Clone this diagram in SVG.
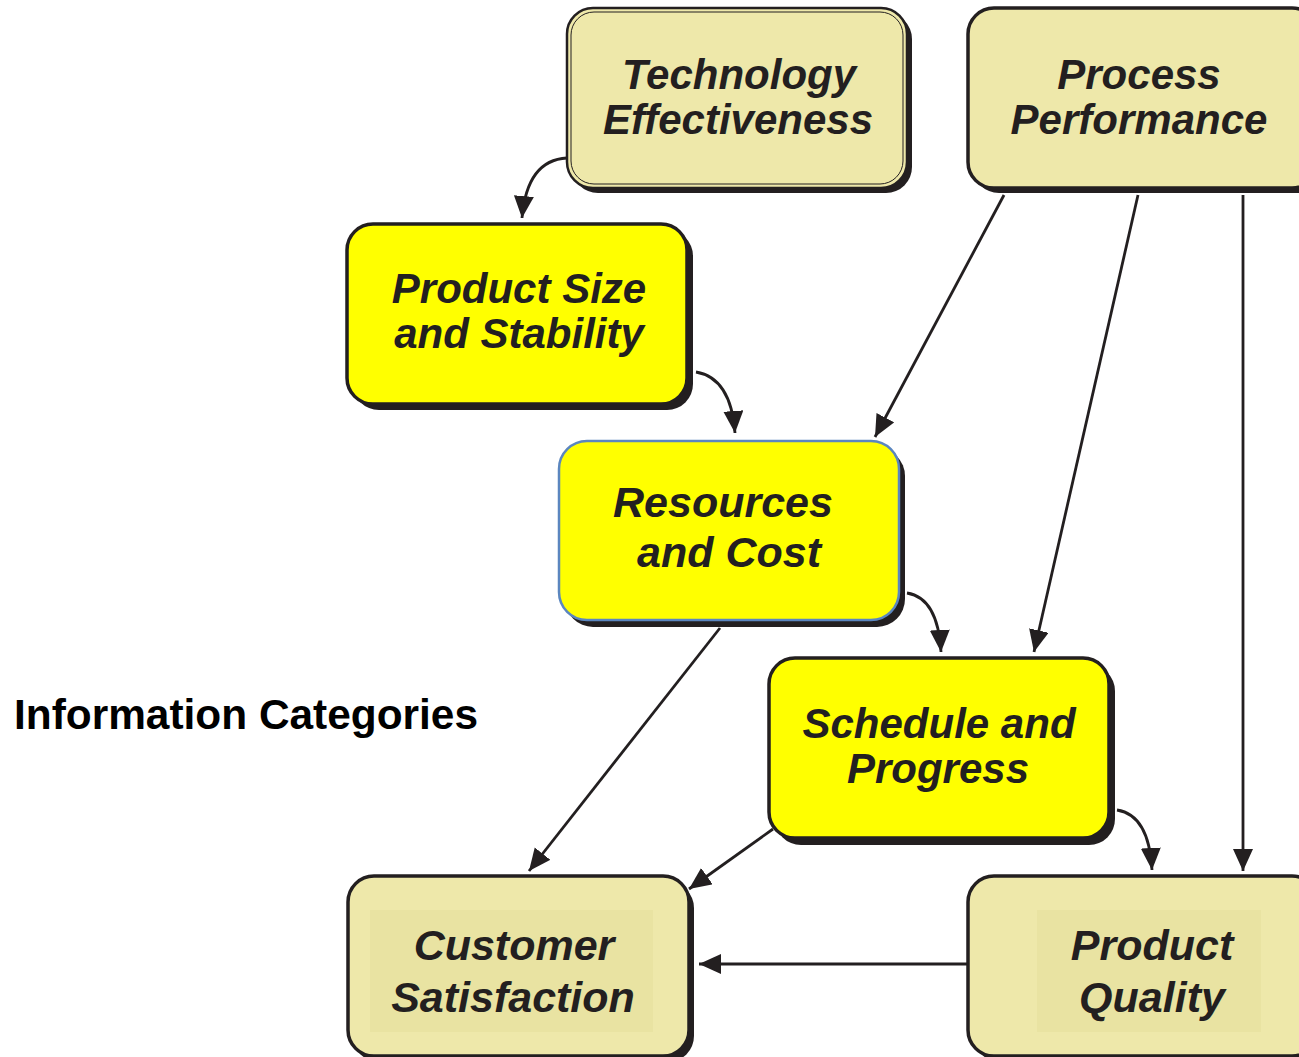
<svg xmlns="http://www.w3.org/2000/svg" width="1299" height="1057" viewBox="0 0 1299 1057">
<defs>
<style>
.shadow{fill:#231f20;}
.khaki{fill:#EEE8AA;stroke:#231f20;stroke-width:3.5;}
.khakiThin{fill:#EEE8AA;stroke:#231f20;stroke-width:2.5;}
.yellow{fill:#FFFF00;stroke:#231f20;stroke-width:3.5;}
.blue{fill:#FFFF00;stroke:#5B86BF;stroke-width:2.5;}
.inner{fill:#E9E3A2;}
.lbl{font-family:"Liberation Sans",Arial,sans-serif;font-weight:bold;font-style:italic;font-size:42px;fill:#231f20;text-anchor:middle;}
.big{font-size:43px;}
.title{font-family:"Liberation Sans",Arial,sans-serif;font-weight:bold;font-size:42.4px;fill:#000;}
.conn{fill:none;stroke:#231f20;stroke-width:2.8;}
</style>
<marker id="arr" markerUnits="userSpaceOnUse" markerWidth="24" markerHeight="22" refX="22" refY="10" orient="auto">
<path d="M0,0 L22,10 L0,20 z" fill="#231f20"/>
</marker>
</defs>

<text class="title" x="14" y="729">Information Categories</text>

<g id="connectors">
<path class="conn" marker-end="url(#arr)" d="M567,158 Q527,160 522,218"/>
<path class="conn" marker-end="url(#arr)" d="M696,372 Q731,378 735,433"/>
<path class="conn" marker-end="url(#arr)" d="M1004,195 L875,437"/>
<path class="conn" marker-end="url(#arr)" d="M1138,195 L1034,652"/>
<path class="conn" marker-end="url(#arr)" d="M1243,195 L1243,871"/>
<path class="conn" marker-end="url(#arr)" d="M907,593 Q938,598 941,652"/>
<path class="conn" marker-end="url(#arr)" d="M720,628 L529,871"/>
<path class="conn" marker-end="url(#arr)" d="M773,829 L689,889"/>
<path class="conn" marker-end="url(#arr)" d="M1117,810 Q1149,815 1152,870"/>
<path class="conn" marker-end="url(#arr)" d="M968,964 L699,964"/>
</g>

<g id="technology-effectiveness">
<rect class="shadow" x="572" y="13" width="340" height="180" rx="26"/>
<rect class="khakiThin" x="567" y="8" width="340" height="180" rx="26"/>
<rect x="571" y="12" width="332" height="172" rx="23" fill="none" stroke="#231f20" stroke-width="1"/>
<text class="lbl" x="739" y="89">Technology</text>
<text class="lbl" x="738" y="134">Effectiveness</text>
</g>

<g id="process-performance">
<rect class="shadow" x="973" y="13" width="350" height="180" rx="26"/>
<rect class="khaki" x="968" y="8" width="350" height="180" rx="26"/>
<text class="lbl" x="1139" y="89">Process</text>
<text class="lbl" x="1139" y="134">Performance</text>
</g>

<g id="product-size-stability">
<rect class="shadow" x="353" y="230" width="340" height="180" rx="26"/>
<rect class="yellow" x="347" y="224" width="340" height="180" rx="26"/>
<text class="lbl" x="519" y="303">Product Size</text>
<text class="lbl" x="519" y="348">and Stability</text>
</g>

<g id="resources-cost">
<rect class="shadow" x="565" y="448" width="340" height="179" rx="28"/>
<rect class="blue" x="559" y="441" width="340" height="179" rx="28"/>
<text class="lbl big" x="723" y="517">Resources</text>
<text class="lbl big" x="729" y="567">and Cost</text>
</g>

<g id="schedule-progress">
<rect class="shadow" x="775" y="665" width="340" height="180" rx="26"/>
<rect class="yellow" x="769" y="658" width="340" height="180" rx="26"/>
<text class="lbl" x="939" y="738">Schedule and</text>
<text class="lbl" x="938" y="783">Progress</text>
</g>

<g id="customer-satisfaction">
<rect class="shadow" x="353" y="882" width="341" height="180" rx="26"/>
<rect class="khaki" x="348" y="876" width="341" height="180" rx="26"/>
<rect class="inner" x="370" y="910" width="283" height="122"/>
<text class="lbl big" x="514" y="960">Customer</text>
<text class="lbl big" x="513" y="1012">Satisfaction</text>
</g>

<g id="product-quality">
<rect class="shadow" x="974" y="882" width="350" height="180" rx="26"/>
<rect class="khaki" x="968" y="876" width="350" height="180" rx="26"/>
<rect class="inner" x="1037" y="910" width="224" height="122"/>
<text class="lbl big" x="1152" y="960">Product</text>
<text class="lbl big" x="1152" y="1012">Quality</text>
</g>
</svg>
